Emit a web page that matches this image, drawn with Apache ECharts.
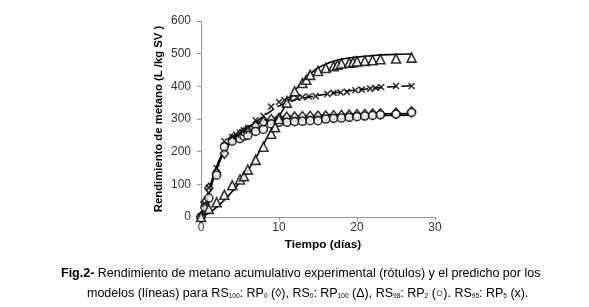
<!DOCTYPE html>
<html lang="es">

<head>
    <meta charset="UTF-8">
    <title>Rendimiento de metano</title>
    <script src="https://cdn.jsdelivr.net/npm/echarts@6/dist/echarts.min.js"></script>
    <style>
        body,
        html {
            padding: 0;
            margin: 0;
            background: #fff;
        }

        #chart-panel {
            width: 589px;
            height: 307px;
        }
    </style>
</head>

<body>
    <div id="chart-panel"></div>
    <script>
        // datos experimentales (dias, L/kg SV)
        var diasRP0 = [0, 0.5, 1, 2, 3, 4, 5, 5.5, 6, 7, 8, 9, 10, 11, 12, 13, 14, 15, 16, 17, 18, 19, 20, 21, 22, 23, 25, 27];
        var valRP0 = [0, 45, 88, 135, 195, 238, 252, 258, 265, 278, 290, 298, 302, 305, 306, 307, 308, 309, 309, 310, 311, 312, 313, 314, 315, 316, 318, 322];

        var diasRP100 = [0, 1, 2, 3, 4, 5, 5.5, 6, 7, 8, 9, 9.5, 10, 11, 12, 13, 13.5, 14, 15, 16, 17, 17.5, 18, 19, 19.5, 20, 21, 22, 23, 25, 27];
        var valRP100 = [0, 25, 45, 68, 97, 115, 125, 145, 175, 215, 255, 275, 300, 350, 385, 410, 420, 435, 447, 456, 462, 466, 470, 472, 474, 476, 478, 480, 483, 485, 488];

        var diasRP2 = [0, 0.5, 1, 2, 3, 4, 5, 5.5, 6, 7, 8, 9, 10, 11, 12, 13, 14, 15, 16, 17, 18, 19, 20, 21, 22, 23, 25, 27];
        var valRP2 = [0, 30, 58, 128, 215, 232, 240, 248, 250, 262, 268, 285, 290, 290, 292, 293, 295, 295, 300, 302, 303, 305, 307, 309, 311, 313, 315, 320];

        var diasRP5 = [0, 0.5, 1, 2, 3, 4, 4.5, 5, 5.5, 6, 7, 8, 9, 10, 10.7, 11.4, 12.3, 13, 13.8, 14.7, 16.2, 17, 17.9, 18.7, 19.8, 20.6, 21.7, 22.4, 23.1, 25, 27];
        var valRP5 = [0, 40, 90, 150, 232, 245, 252, 258, 265, 272, 296, 310, 338, 352, 358, 362, 365, 367, 369, 370, 377, 380, 381, 383, 388, 390, 393, 395, 398, 401, 401];

        // curvas de los modelos
        var diasModelo = [0, 1, 2, 3, 4, 5, 6, 7, 8, 9, 10, 12, 14, 16, 18, 20, 22, 24, 27];
        var modRP0 = [0, 80, 155, 205, 238, 260, 275, 287, 295, 301, 305, 308, 310, 312, 313, 314, 315, 316, 317];
        var modRP2 = [0, 70, 145, 200, 235, 258, 274, 285, 293, 298, 301, 304, 306, 307, 308, 309, 310, 311, 312];
        var modRP5 = [0, 75, 150, 205, 235, 255, 272, 290, 308, 325, 340, 358, 368, 376, 383, 389, 394, 398, 402];
        var diasModRP100 = [0, 1, 2, 3, 4, 5, 6, 7, 8, 9, 10, 11, 12, 13, 14, 15, 16, 17, 18, 20, 22, 24, 27];
        var modRP100 = [0, 12, 30, 52, 78, 108, 142, 180, 222, 265, 308, 348, 385, 415, 438, 456, 468, 477, 483, 490, 494, 497, 499];

        function pares(xs, ys) {
            return xs.map(function (x, i) { return [x, ys[i]]; });
        }

        var fuente = 'Liberation Sans, Arial, sans-serif';
        var cruz = 'path://M0,0L10,10M10,0L0,10';

        function marcas(nombre, xs, ys, simbolo, tam) {
            return {
                name: nombre,
                type: 'scatter',
                data: pares(xs, ys),
                symbol: simbolo,
                symbolSize: tam,
                itemStyle: { color: '#fff', borderColor: '#000', borderWidth: 1.6 },
                z: 3
            };
        }

        function modelo(nombre, xs, ys, tipo) {
            return {
                name: nombre,
                type: 'line',
                data: pares(xs, ys),
                smooth: true,
                showSymbol: false,
                lineStyle: { color: '#000', width: 1.6, type: tipo },
                z: 2
            };
        }

        var option = {
            backgroundColor: '#fff',
            animation: false,
            grid: { left: 201, right: 154, top: 21, bottom: 90 },
            xAxis: {
                type: 'value',
                min: 0, max: 30, interval: 10,
                name: 'Tiempo (días)',
                nameLocation: 'middle',
                nameGap: 12,
                nameTextStyle: { fontFamily: fuente, fontWeight: 'bold', fontSize: 11.8, color: '#000', padding: [0, 0, 0, 10] },
                axisLine: { lineStyle: { color: '#9a9a9a', width: 1 } },
                axisTick: { show: true, length: 4, lineStyle: { color: '#9a9a9a' } },
                axisLabel: { fontFamily: fuente, fontSize: 12, color: '#333', margin: 5 },
                splitLine: { show: false }
            },
            yAxis: {
                type: 'value',
                min: 0, max: 600, interval: 100,
                name: 'Rendimiento de metano (L /kg SV )',
                nameLocation: 'middle',
                nameGap: 37,
                nameTextStyle: { fontFamily: fuente, fontWeight: 'bold', fontSize: 11.3, color: '#000' },
                axisLine: { show: true, lineStyle: { color: '#9a9a9a', width: 1 } },
                axisTick: { show: true, length: 4, lineStyle: { color: '#9a9a9a' } },
                axisLabel: { fontFamily: fuente, fontSize: 12, color: '#333', margin: 10 },
                splitLine: { show: false }
            },
            graphic: [
                {
                    type: 'text',
                    left: 61,
                    top: 267,
                    style: {
                        text: '{b|Fig.2-} Rendimiento de metano acumulativo experimental (rótulos) y el predicho por los',
                        font: '12.5px ' + fuente,
                        fill: '#000',
                        rich: {
                            b: { fontWeight: 'bold', fontSize: 12.5, fontFamily: fuente }
                        }
                    }
                },
                {
                    type: 'text',
                    left: 87,
                    top: 287,
                    style: {
                        text: 'modelos (líneas) para RS{s|100}: RP{s|0} (◊), RS{s|0}: RP{s|100} (Δ), RS{s|98}: RP{s|2} (○). RS{s|95}: RP{s|5} (x).',
                        font: '12.5px ' + fuente,
                        fill: '#000',
                        rich: {
                            s: { fontSize: 6.5, fontFamily: fuente, verticalAlign: 'bottom', lineHeight: 13 }
                        }
                    }
                }
            ],
            series: [
                modelo('RP0 modelo', diasModelo, modRP0, 'solid'),
                modelo('RP2 modelo', diasModelo, modRP2, 'solid'),
                modelo('RP5 modelo', diasModelo, modRP5, [9, 5]),
                modelo('RP100 modelo', diasModRP100, modRP100, 'solid'),
                marcas('RS100: RP0', diasRP0, valRP0, 'diamond', [8, 10]),
                marcas('RS98: RP2', diasRP2, valRP2, 'circle', 8),
                marcas('RS95: RP5', diasRP5, valRP5, cruz, 6),
                marcas('RS0: RP100', diasRP100, valRP100, 'triangle', 9)
            ]
        };

        var chartVM = echarts.init(document.getElementById('chart-panel'), null, { renderer: 'canvas' });
        chartVM.setOption(option);
    </script>
</body>

</html>
